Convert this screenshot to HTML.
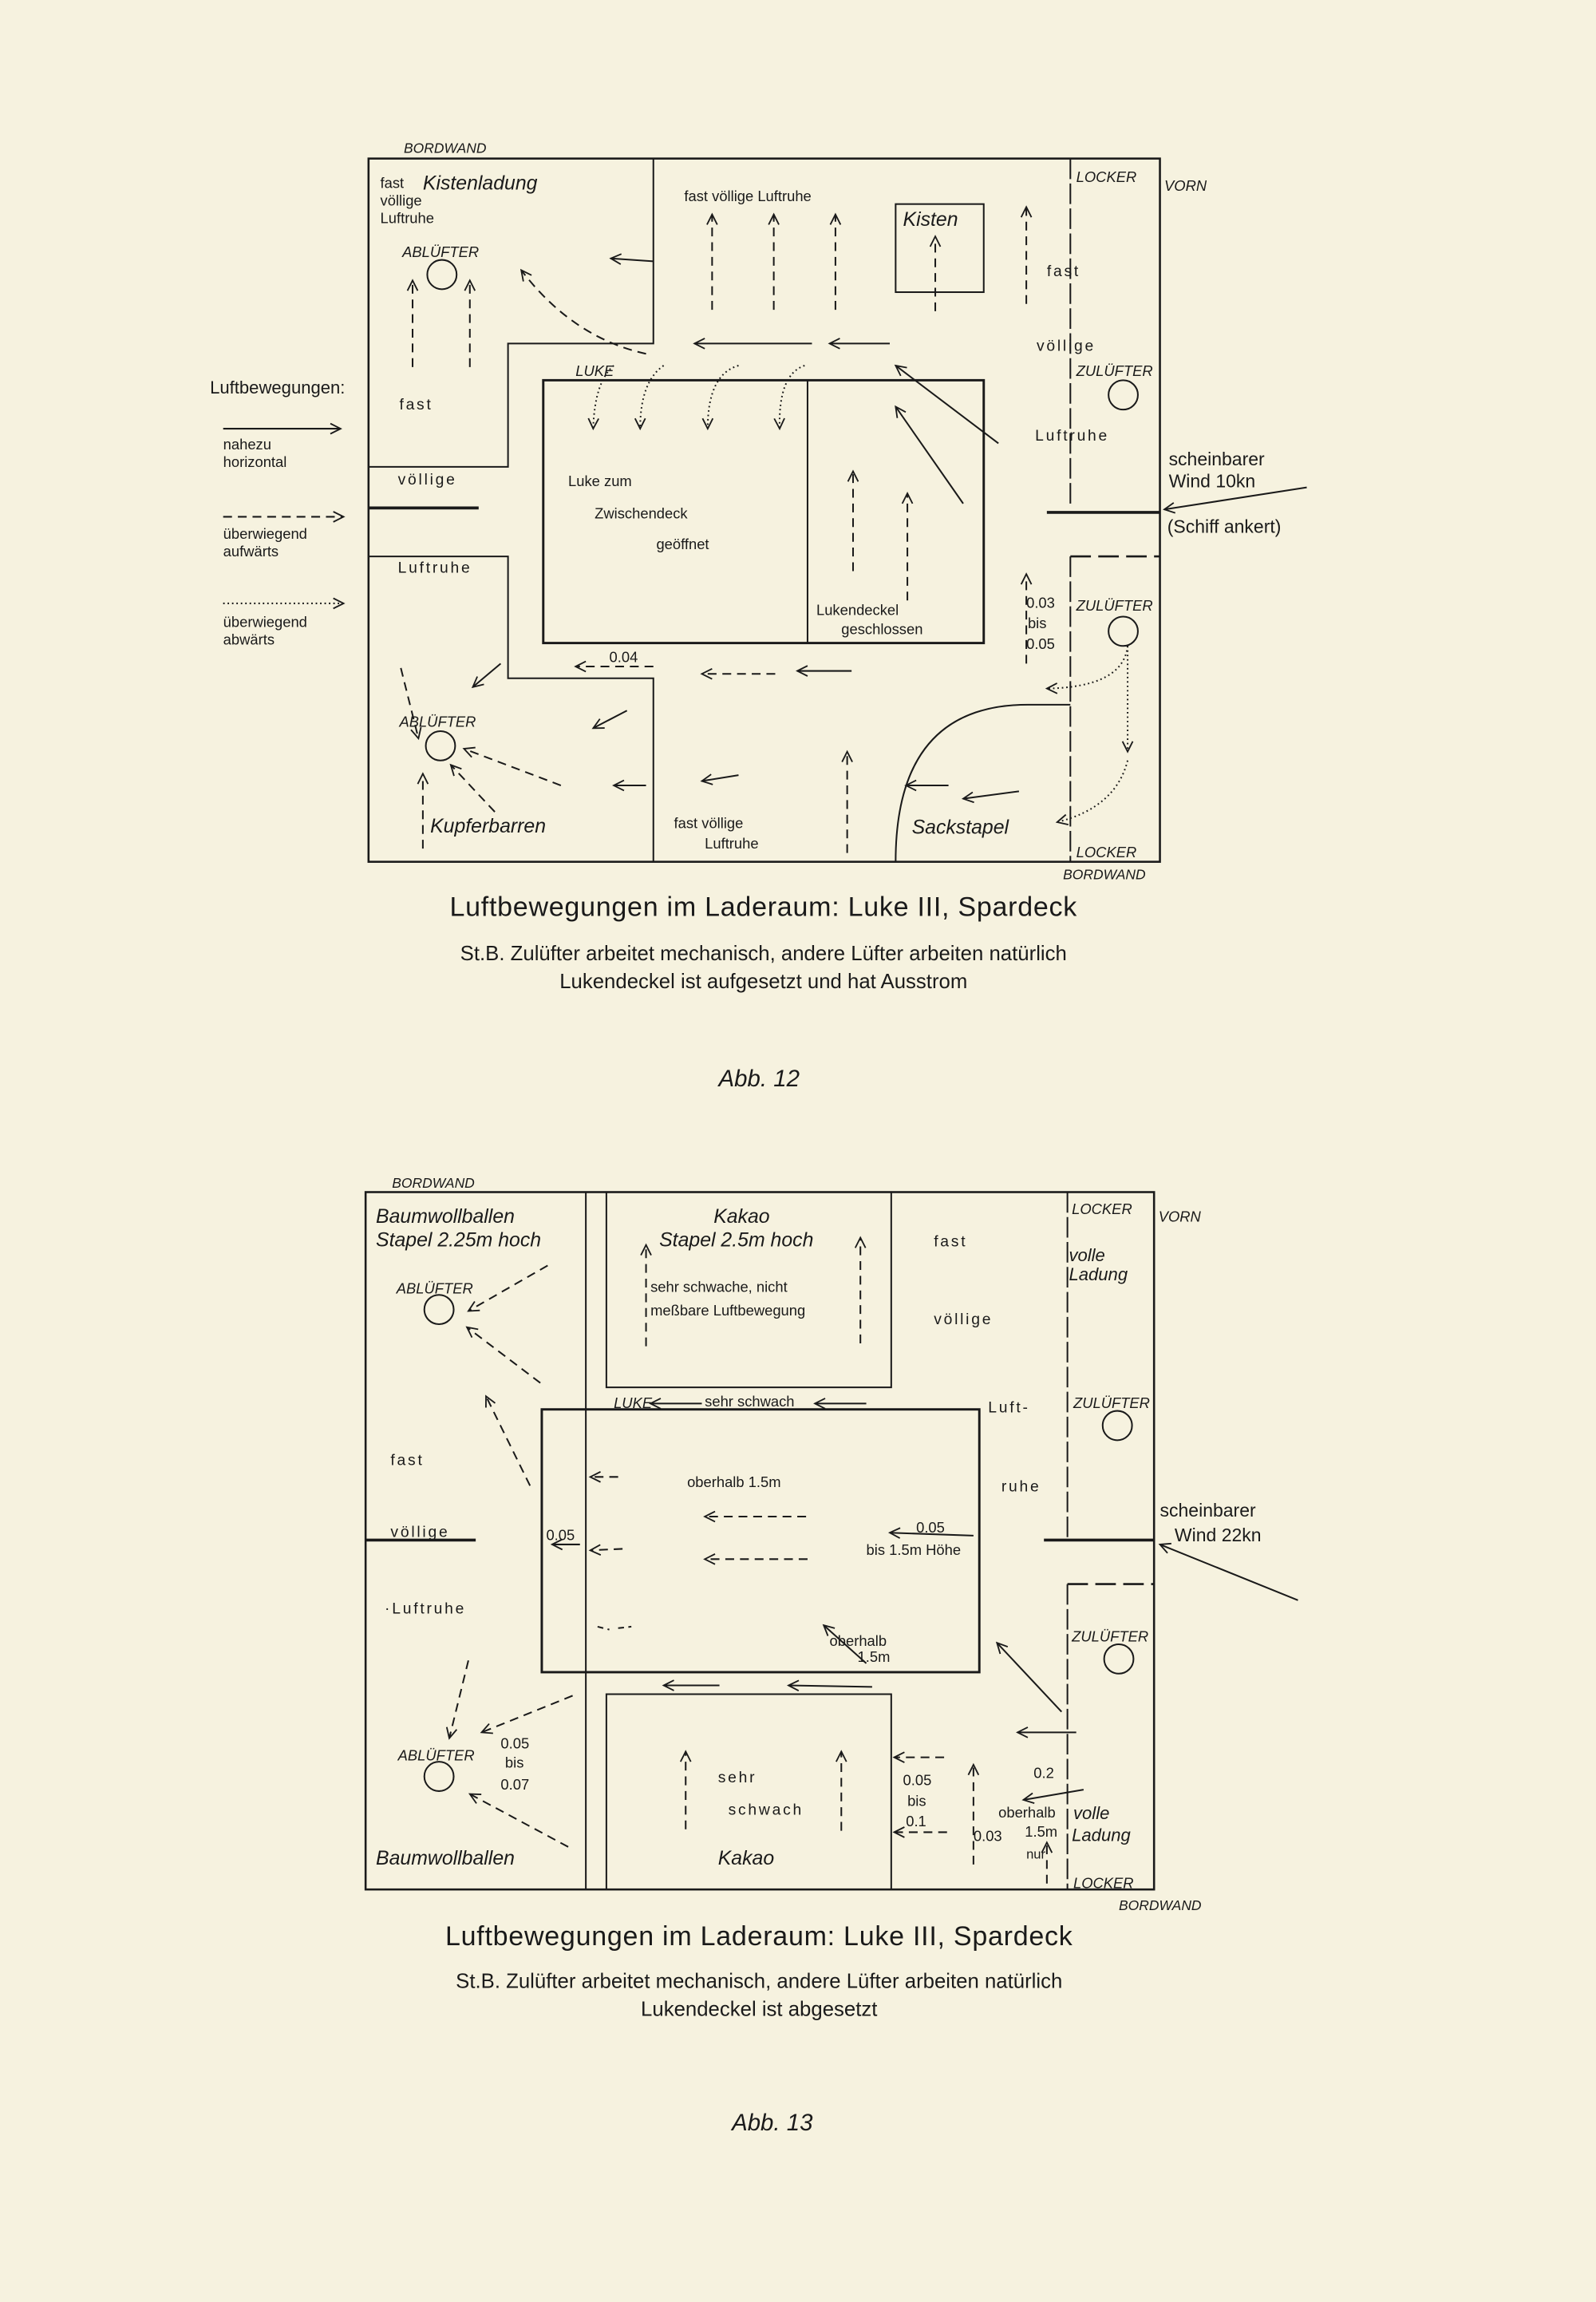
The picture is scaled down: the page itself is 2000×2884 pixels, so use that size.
<!DOCTYPE html>
<html><head><meta charset="utf-8"><style>
html,body{margin:0;padding:0;background:#f6f2df;}
svg{display:block;}
text{font-family:"Liberation Sans",sans-serif;fill:#1a1a1a;}
.s{font-size:10px;}
.sp{font-size:10.5px;letter-spacing:1.5px;}
.i{font-style:italic;}
.ib{font-style:italic;font-size:13.5px;}
.cap{font-size:18.5px;letter-spacing:0.4px;}
.sub{font-size:14px;}
</style></head><body>
<svg width="2000" height="2884" viewBox="0 0 1087 1568" preserveAspectRatio="none" xmlns="http://www.w3.org/2000/svg">
<defs>
<marker id="a" markerUnits="userSpaceOnUse" markerWidth="10" markerHeight="10" refX="8" refY="5" orient="auto"><path d="M1,1.5 L8,5 L1,8.5" fill="none" stroke="#1a1a1a" stroke-width="1"/></marker>
</defs>
<rect width="1087" height="1568" fill="#f6f2df"/>
<g stroke="#1a1a1a" fill="none" stroke-width="1.1">
<rect x="251" y="108" width="539" height="479" stroke-width="1.4"/>
<path d="M445,108 V234 H346 V318 H251"/>
<path d="M251,379 H346 V462 H445 V587"/>
<path d="M251,346 H326" stroke-width="2"/>
<rect x="370" y="259" width="300" height="179" stroke-width="1.6"/>
<path d="M550,259 V438"/>
<rect x="610" y="139" width="60" height="60"/>
<path d="M729,108 V346" stroke-dasharray="14,3"/>
<path d="M713,349 H790" stroke-width="2"/>
<path d="M729,379 H790" stroke-dasharray="14,5" stroke-width="1.4"/>
<path d="M729,379 V587" stroke-dasharray="14,3"/>
<path d="M729,480 H700 Q610,480 610,587"/>
<circle cx="301" cy="187" r="10"/>
<circle cx="765" cy="269" r="10"/>
<circle cx="765" cy="430" r="10"/>
<circle cx="300" cy="508" r="10"/>
<g marker-end="url(#a)">
<path d="M445,178 L416,176"/>
<path d="M553,234 L473,234"/><path d="M606,234 L565,234"/>
<path d="M680,302 L610,249"/><path d="M656,343 L610,277"/>
<path d="M580,457 L543,457"/>
<path d="M341,452 L322,468"/><path d="M427,484 L404,496"/>
<path d="M440,535 L418,535"/><path d="M503,528 L478,532"/>
<path d="M646,535 L617,535"/><path d="M694,539 L656,544"/>
<path d="M890,332 L793,347"/>
<path d="M152,292 L232,292"/>
</g>
<g marker-end="url(#a)" stroke-dasharray="6,4">
<path d="M485,211 V146"/><path d="M527,211 V146"/><path d="M569,211 V146"/>
<path d="M637,212 V161"/><path d="M699,207 V141"/>
<path d="M281,250 V191"/><path d="M320,250 V191"/>
<path d="M440,241 Q390,230 355,184"/>
<path d="M581,389 V321"/><path d="M618,409 V336"/>
<path d="M699,452 V391"/>
<path d="M445,454 L392,454"/><path d="M528,459 L478,459"/>
<path d="M382,535 L316,510"/><path d="M337,553 L307,521"/>
<path d="M273,455 L285,503"/><path d="M288,578 V527"/>
<path d="M577,581 V512"/>
<path d="M152,352 L234,352"/>
</g>
<g marker-end="url(#a)" stroke-dasharray="1,2">
<path d="M418,249 Q405,260 404,292"/>
<path d="M452,249 Q436,260 436,292"/>
<path d="M503,249 Q482,255 482,292"/>
<path d="M548,249 Q530,255 531,292"/>
<path d="M768,440 Q765,468 713,469"/>
<path d="M768,440 V512"/>
<path d="M768,518 Q760,550 720,560"/>
<path d="M152,411 L234,411"/>
</g>
<rect x="249" y="812" width="537" height="475" stroke-width="1.4"/>
<path d="M399,812 V1287"/>
<rect x="413" y="812" width="194" height="133"/>
<rect x="369" y="960" width="298" height="179" stroke-width="1.6"/>
<path d="M413,1287 V1154 H607 V1287"/>
<path d="M249,1049 H324" stroke-width="2"/>
<path d="M727,812 V1049" stroke-dasharray="14,3"/>
<path d="M711,1049 H786" stroke-width="2"/>
<path d="M727,1079 H786" stroke-dasharray="14,5" stroke-width="1.4"/>
<path d="M727,1079 V1287" stroke-dasharray="14,3"/>
<circle cx="299" cy="892" r="10"/>
<circle cx="761" cy="971" r="10"/>
<circle cx="762" cy="1130" r="10"/>
<circle cx="299" cy="1210" r="10"/>
<g marker-end="url(#a)">
<path d="M395,1052 L376,1052"/><path d="M663,1046 L606,1044"/>
<path d="M590,1133 L561,1107"/>
<path d="M490,1148 L452,1148"/><path d="M594,1149 L537,1148"/>
<path d="M723,1166 L679,1119"/>
<path d="M733,1180 L693,1180"/>
<path d="M738,1219 L697,1226"/>
<path d="M884,1090 L790,1052"/>
<path d="M478,956 L443,956"/><path d="M590,956 L555,956"/>
</g>
<g marker-end="url(#a)" stroke-dasharray="6,4">
<path d="M373,862 L319,893"/><path d="M368,942 L318,904"/><path d="M361,1012 L331,951"/>
<path d="M440,917 V848"/><path d="M586,915 V843"/>
<path d="M421,1006 L402,1006"/><path d="M424,1055 L402,1056"/>
<path d="M549,1033 L480,1033"/><path d="M550,1062 L480,1062"/>
<path d="M319,1131 L306,1184"/><path d="M390,1155 L328,1180"/><path d="M387,1258 L320,1222"/>
<path d="M467,1246 V1193"/><path d="M573,1247 V1193"/>
<path d="M643,1197 L609,1197"/><path d="M645,1248 L609,1248"/>
<path d="M663,1270 V1202"/><path d="M713,1283 V1255"/>
</g>
<path d="M407,1108 L415,1110 M421,1109 L430,1108" stroke-dasharray="4,3"/>
</g>

<text x="275" y="104" class="s i" style="font-size:9.5px">BORDWAND</text>
<text x="259" y="128" class="s">fast</text>
<text x="288" y="129" class="ib">Kistenladung</text>
<text x="259" y="140" class="s">völlige</text>
<text x="259" y="152" class="s">Luftruhe</text>
<text x="274" y="175" class="s i">ABLÜFTER</text>
<text x="466" y="137" class="s">fast völlige Luftruhe</text>
<text x="615" y="154" class="ib">Kisten</text>
<text x="733" y="124" class="s i">LOCKER</text>
<text x="793" y="130" class="s i">VORN</text>
<text x="713" y="188" class="sp">fast</text>
<text x="706" y="239" class="sp">völlige</text>
<text x="733" y="256" class="s i">ZULÜFTER</text>
<text x="705" y="300" class="sp">Luftruhe</text>
<text x="392" y="256" class="s i">LUKE</text>
<text x="272" y="279" class="sp">fast</text>
<text x="271" y="330" class="sp">völlige</text>
<text x="271" y="390" class="sp">Luftruhe</text>
<text x="387" y="331" class="s">Luke zum</text>
<text x="405" y="353" class="s">Zwischendeck</text>
<text x="447" y="374" class="s">geöffnet</text>
<text x="556" y="419" class="s">Lukendeckel</text>
<text x="573" y="432" class="s">geschlossen</text>
<text x="699" y="414" class="s">0.03</text>
<text x="700" y="428" class="s">bis</text>
<text x="699" y="442" class="s">0.05</text>
<text x="733" y="416" class="s i">ZULÜFTER</text>
<text x="415" y="451" class="s">0.04</text>
<text x="272" y="495" class="s i">ABLÜFTER</text>
<text x="293" y="567" class="ib">Kupferbarren</text>
<text x="459" y="564" class="s">fast völlige</text>
<text x="480" y="578" class="s">Luftruhe</text>
<text x="621" y="568" class="ib">Sackstapel</text>
<text x="733" y="584" class="s i">LOCKER</text>
<text x="724" y="599" class="s i" style="font-size:9.5px">BORDWAND</text>
<text x="143" y="268" style="font-size:12px">Luftbewegungen:</text>
<text x="152" y="306" class="s">nahezu</text>
<text x="152" y="318" class="s">horizontal</text>
<text x="152" y="367" class="s">überwiegend</text>
<text x="152" y="379" class="s">aufwärts</text>
<text x="152" y="427" class="s">überwiegend</text>
<text x="152" y="439" class="s">abwärts</text>
<text x="796" y="317" style="font-size:12.5px">scheinbarer</text>
<text x="796" y="332" style="font-size:12.5px">Wind 10kn</text>
<text x="795" y="363" style="font-size:12.5px">(Schiff ankert)</text>
<text x="520" y="624" class="cap" text-anchor="middle">Luftbewegungen im Laderaum: Luke III, Spardeck</text>
<text x="520" y="654" class="sub" text-anchor="middle">St.B. Zulüfter arbeitet mechanisch, andere Lüfter arbeiten natürlich</text>
<text x="520" y="673" class="sub" text-anchor="middle">Lukendeckel ist aufgesetzt und hat Ausstrom</text>
<text x="517" y="740" text-anchor="middle" style="font-size:16px;font-style:italic">Abb. 12</text>

<text x="267" y="809" class="s i" style="font-size:9.5px">BORDWAND</text>
<text x="256" y="833" class="ib">Baumwollballen</text>
<text x="256" y="849" class="ib">Stapel 2.25m hoch</text>
<text x="270" y="881" class="s i">ABLÜFTER</text>
<text x="486" y="833" class="ib">Kakao</text>
<text x="449" y="849" class="ib">Stapel 2.5m hoch</text>
<text x="443" y="880" class="s">sehr schwache, nicht</text>
<text x="443" y="896" class="s">meßbare Luftbewegung</text>
<text x="636" y="849" class="sp">fast</text>
<text x="636" y="902" class="sp">völlige</text>
<text x="730" y="827" class="s i">LOCKER</text>
<text x="789" y="832" class="s i">VORN</text>
<text x="728" y="859" class="s i" style="font-size:12px">volle</text>
<text x="728" y="872" class="s i" style="font-size:12px">Ladung</text>
<text x="418" y="959" class="s i">LUKE</text>
<text x="480" y="958" class="s">sehr schwach</text>
<text x="673" y="962" class="sp">Luft-</text>
<text x="682" y="1016" class="sp">ruhe</text>
<text x="731" y="959" class="s i">ZULÜFTER</text>
<text x="266" y="998" class="sp">fast</text>
<text x="266" y="1047" class="sp">völlige</text>
<text x="262" y="1099" class="sp">·Luftruhe</text>
<text x="468" y="1013" class="s">oberhalb 1.5m</text>
<text x="372" y="1049" class="s">0.05</text>
<text x="624" y="1044" class="s">0.05</text>
<text x="590" y="1059" class="s">bis 1.5m Höhe</text>
<text x="565" y="1121" class="s">oberhalb</text>
<text x="584" y="1132" class="s">1.5m</text>
<text x="730" y="1118" class="s i">ZULÜFTER</text>
<text x="790" y="1033" style="font-size:12.5px">scheinbarer</text>
<text x="800" y="1050" style="font-size:12.5px">Wind 22kn</text>
<text x="341" y="1191" class="s">0.05</text>
<text x="344" y="1204" class="s">bis</text>
<text x="341" y="1219" class="s">0.07</text>
<text x="271" y="1199" class="s i">ABLÜFTER</text>
<text x="489" y="1214" class="sp">sehr</text>
<text x="496" y="1236" class="sp">schwach</text>
<text x="489" y="1270" class="ib">Kakao</text>
<text x="615" y="1216" class="s">0.05</text>
<text x="618" y="1230" class="s">bis</text>
<text x="617" y="1244" class="s">0.1</text>
<text x="663" y="1254" class="s">0.03</text>
<text x="704" y="1211" class="s">0.2</text>
<text x="680" y="1238" class="s">oberhalb</text>
<text x="698" y="1251" class="s">1.5m</text>
<text x="699" y="1266" class="s" style="font-size:9px">nur</text>
<text x="731" y="1239" class="s i" style="font-size:12px">volle</text>
<text x="730" y="1254" class="s i" style="font-size:12px">Ladung</text>
<text x="256" y="1270" class="ib">Baumwollballen</text>
<text x="731" y="1286" class="s i">LOCKER</text>
<text x="762" y="1301" class="s i" style="font-size:9.5px">BORDWAND</text>
<text x="517" y="1325" class="cap" text-anchor="middle">Luftbewegungen im Laderaum: Luke III, Spardeck</text>
<text x="517" y="1354" class="sub" text-anchor="middle">St.B. Zulüfter arbeitet mechanisch, andere Lüfter arbeiten natürlich</text>
<text x="517" y="1373" class="sub" text-anchor="middle">Lukendeckel ist abgesetzt</text>
<text x="526" y="1451" text-anchor="middle" style="font-size:16px;font-style:italic">Abb. 13</text>
</svg>
</body></html>
